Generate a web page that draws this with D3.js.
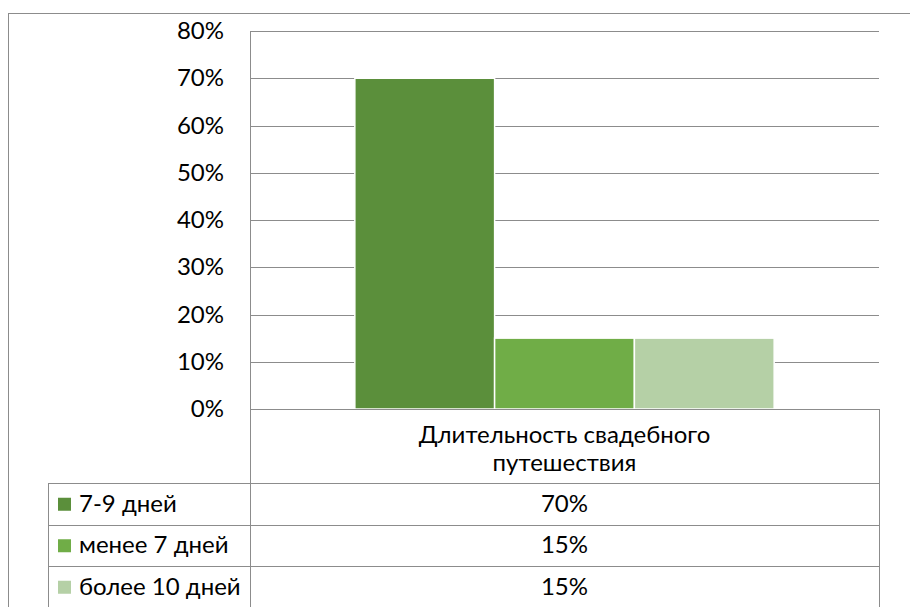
<!DOCTYPE html>
<html>
<head>
<meta charset="utf-8">
<script src="https://cdn.jsdelivr.net/npm/d3@7"></script>
<style>
  body { margin: 0; background: #fff; }
  svg { display: block; font-family: Lato, 'Open Sans', sans-serif; }
  .tick-label, .cell-text { font-family: Lato, 'Open Sans', sans-serif; font-size: 24px; fill: #000; }
</style>
</head>
<body>
<svg width="910" height="607"></svg>
<script>
// chart data
var categories = ['Длительность свадебного путешествия'];
var categoryLines = ['Длительность свадебного', 'путешествия'];
var seriesNames = ['7-9 дней', 'менее 7 дней', 'более 10 дней'];
var seriesValues = [0.70, 0.15, 0.15];
var seriesColors = ['#5b8f3b', '#70ad47', '#b5d0a6'];
var tickValues = [0, 0.1, 0.2, 0.3, 0.4, 0.5, 0.6, 0.7, 0.8];

var svg = d3.select('svg');
var gridColor = '#8c8c8c';

var plot = {l: 250, r: 879, t: 31, b: 409};
var table = {l: 48, catBottom: 483, rowH: 41.5};

var y = d3.scaleLinear().domain([0, 0.8]).range([plot.b, plot.t]);
var xCat = d3.scaleBand().domain(categories).range([plot.l, plot.r]).paddingInner(0).paddingOuter(0);
var xSer = d3.scaleBand().domain(seriesNames)
    .range([0, xCat.bandwidth()]).paddingInner(0).paddingOuter(0.75);

var fmt = d3.format('.0%');

// outer chart border
svg.append('rect')
    .attr('x', 8.5).attr('y', 13.5)
    .attr('width', 910).attr('height', 620)
    .attr('fill', 'none').attr('stroke', gridColor);

// gridlines
svg.append('g').selectAll('line')
    .data(tickValues.slice(1))
    .enter().append('line')
    .attr('x1', plot.l).attr('x2', plot.r)
    .attr('y1', function(d) { return Math.round(y(d)) + 0.5; })
    .attr('y2', function(d) { return Math.round(y(d)) + 0.5; })
    .attr('stroke', gridColor);

// y labels
var yAxis = d3.axisLeft(y).tickValues(tickValues).tickFormat(fmt).tickSize(0).tickPadding(26);
var yg = svg.append('g').attr('transform', 'translate(' + plot.l + ',0)').call(yAxis);
yg.attr('font-family', null).attr('font-size', null);
yg.select('.domain').remove();
yg.selectAll('text').attr('class', 'tick-label').attr('fill', null);

// bars
svg.append('g').selectAll('rect')
    .data(seriesNames)
    .enter().append('rect')
    .attr('x', function(d) { return xCat(categories[0]) + xSer(d); })
    .attr('y', function(d, i) { return y(seriesValues[i]); })
    .attr('width', xSer.bandwidth())
    .attr('height', function(d, i) { return y(0) - y(seriesValues[i]); })
    .attr('fill', function(d, i) { return seriesColors[i]; })
    .attr('stroke', '#fff').attr('stroke-width', 1.5);

// data table lines
var rowTops = seriesNames.map(function(d, i) { return table.catBottom + i * table.rowH; });
var tableBottom = 640;
var lines = svg.append('g').attr('stroke', gridColor).attr('shape-rendering', 'crispEdges');
lines.append('line').attr('x1', plot.l).attr('x2', plot.r).attr('y1', plot.b + 0.5).attr('y2', plot.b + 0.5);
lines.selectAll('.row-line').data(rowTops).enter().append('line')
    .attr('x1', table.l).attr('x2', plot.r)
    .attr('y1', function(d) { return Math.round(d) + 0.5; })
    .attr('y2', function(d) { return Math.round(d) + 0.5; });
lines.append('line').attr('x1', plot.l + 0.5).attr('x2', plot.l + 0.5).attr('y1', plot.t).attr('y2', tableBottom);
lines.append('line').attr('x1', table.l + 0.5).attr('x2', table.l + 0.5).attr('y1', table.catBottom).attr('y2', tableBottom);
lines.append('line').attr('x1', plot.r + 0.5).attr('x2', plot.r + 0.5).attr('y1', plot.b).attr('y2', tableBottom);

// category label
var cx = xCat(categories[0]) + xCat.bandwidth() / 2;
svg.append('text').attr('class', 'cell-text')
    .attr('text-anchor', 'middle')
    .selectAll('tspan').data(categoryLines).enter().append('tspan')
    .attr('x', cx)
    .attr('y', function(d, i) { return 443 + i * 28; })
    .text(function(d) { return d; });

// table rows: legend key + value
var rows = svg.append('g').selectAll('g')
    .data(seriesNames)
    .enter().append('g')
    .attr('transform', function(d, i) { return 'translate(0,' + rowTops[i] + ')'; });

rows.append('rect')
    .attr('x', 58).attr('y', table.rowH / 2 - 6)
    .attr('width', 13).attr('height', 13)
    .attr('fill', function(d, i) { return seriesColors[i]; });

rows.append('text').attr('class', 'cell-text')
    .attr('x', 79).attr('y', table.rowH / 2 + 8)
    .text(function(d) { return d; });

rows.append('text').attr('class', 'cell-text')
    .attr('x', cx).attr('y', table.rowH / 2 + 8)
    .attr('text-anchor', 'middle')
    .text(function(d, i) { return fmt(seriesValues[i]); });
</script>
</body>
</html>
